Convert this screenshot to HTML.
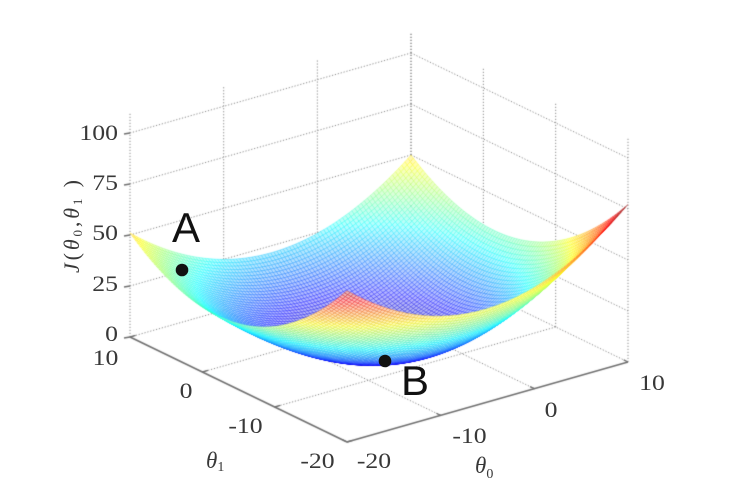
<!DOCTYPE html>
<html><head><meta charset="utf-8">
<style>
html,body{margin:0;padding:0;background:#fff;}
#w{position:relative;width:739px;height:495px;overflow:hidden;background:#fff;}
canvas,svg{position:absolute;left:0;top:0;}
.t{font-family:"Liberation Serif",serif;font-size:22px;fill:#383838;}
.s{font-family:"Liberation Sans",sans-serif;font-size:42px;fill:#111;}
</style></head><body>
<div id="w">
<canvas id="c" width="739" height="495"></canvas>
<svg width="739" height="495" viewBox="0 0 739 495">
  <text class="t" text-anchor="end" transform="translate(118,140) scale(1.17,1)">100</text>
  <text class="t" text-anchor="end" transform="translate(118,190) scale(1.17,1)">75</text>
  <text class="t" text-anchor="end" transform="translate(118,240) scale(1.17,1)">50</text>
  <text class="t" text-anchor="end" transform="translate(118,291) scale(1.17,1)">25</text>
  <text class="t" text-anchor="end" transform="translate(118,341) scale(1.17,1)">0</text>
  <text class="t" text-anchor="middle" transform="translate(105.5,365) scale(1.17,1)">10</text>
  <text class="t" text-anchor="middle" transform="translate(186,398) scale(1.17,1)">0</text>
  <text class="t" text-anchor="middle" transform="translate(245.5,433) scale(1.17,1)">-10</text>
  <text class="t" text-anchor="middle" transform="translate(317.5,468) scale(1.17,1)">-20</text>
  <text class="t" text-anchor="middle" transform="translate(374,468) scale(1.17,1)">-20</text>
  <text class="t" text-anchor="middle" transform="translate(469.5,443) scale(1.17,1)">-10</text>
  <text class="t" text-anchor="middle" transform="translate(551,417) scale(1.17,1)">0</text>
  <text class="t" text-anchor="middle" transform="translate(652,390) scale(1.17,1)">10</text>
  <text class="t" transform="translate(206,468)"><tspan font-style="italic" font-size="23">θ</tspan><tspan font-size="14" dy="3">1</tspan></text>
  <text class="t" transform="translate(475,473)"><tspan font-style="italic" font-size="23">θ</tspan><tspan font-size="14" dy="5">0</tspan></text>
  <text class="t" transform="translate(79,273) rotate(-90)" textLength="93" lengthAdjust="spacing"><tspan font-style="italic">J</tspan><tspan>(</tspan><tspan font-style="italic">θ</tspan><tspan font-size="13" dy="3">0</tspan><tspan dy="-3">,</tspan><tspan font-style="italic">θ</tspan><tspan font-size="13" dy="3">1</tspan><tspan dy="-3"> )</tspan></text>
  <text class="s" x="172" y="242">A</text>
  <text class="s" x="401" y="395">B</text>
  <circle cx="182" cy="270" r="6.3" fill="#111"/>
  <circle cx="385" cy="361" r="6.3" fill="#111"/>
</svg>
</div>
<script>
(function(){
var c=document.getElementById('c'),x=c.getContext('2d');
function P(a,b,z){var u=a+20,v=b+20;return [347+9.367*u-7.233*v,442-2.667*u-3.5*v-2.04*z];}
function L(p,q){x.beginPath();x.moveTo(p[0],p[1]);x.lineTo(q[0],q[1]);x.stroke();}
x.fillStyle='#fff';x.fillRect(0,0,739,495);
x.setLineDash([1.2,1.8]);x.strokeStyle='#8c8c8c';x.lineWidth=1;
var k;
var T0=[-20,-10,0,10],T1=[10,0,-10,-20],ZZ=[0,25,50,75,100];
for(k=0;k<4;k++)L(P(T0[k],10,0),P(T0[k],10,110));
for(k=0;k<4;k++)L(P(10,T1[k],0),P(10,T1[k],110));
for(k=0;k<5;k++){L(P(-20,10,ZZ[k]),P(10,10,ZZ[k]));L(P(10,10,ZZ[k]),P(10,-20,ZZ[k]));}
L(P(-10,-20,0),P(-10,10,0));L(P(0,-20,0),P(0,10,0));
L(P(-20,-10,0),P(10,-10,0));L(P(-20,0,0),P(10,0,0));
var K=8,K2=3;
function J(a,b){var s=(a+20)/30,t=(b+20)/30,ph=16*s*(1-s)*t*(1-t),w=(10-a)*(10-b)/900;
 return 0.1284*a*a+0.13*b*b-0.009*a*b+1.34*a+0.482*b+6.83-K*ph-K2*ph*(a-b)/10+4*w*w;}
var N=90,st=30/N,G=[],S=[],zmin=1e9,zmax=-1e9,i,j;
for(i=0;i<=N;i++){G[i]=[];S[i]=[];for(j=0;j<=N;j++){var a=-20+i*st,b=-20+j*st,z=J(a,b);G[i][j]=z;S[i][j]=P(a,b,z);if(z<zmin)zmin=z;if(z>zmax)zmax=z;}}
var Q=[];
for(i=0;i<N;i++)for(j=0;j<N;j++){var zc=(G[i][j]+G[i+1][j]+G[i][j+1]+G[i+1][j+1])/4;var u=(i+0.5)*st,v=(j+0.5)*st;Q.push([-3.8*u-4.92*v+zc,i,j,zc]);}
Q.sort(function(p,q){return p[0]-q[0];});
function cl(v){return v<0?0:v>1?1:v;}
x.setLineDash([]);x.lineWidth=0.55;x.lineJoin='round';
for(k=0;k<Q.length;k++){var q=Q[k];i=q[1];j=q[2];var t=(q[3]-zmin)/(zmax-zmin);
 var r=cl(1.5-Math.abs(4*t-3)),g=cl(1.5-Math.abs(4*t-2)),bb=cl(1.5-Math.abs(4*t-1));
 var R=Math.round(255*r),Gc=Math.round(255*g),B=Math.round(255*bb);
 var f=0.3;
 x.fillStyle='rgb('+Math.round(255-(255-R)*f)+','+Math.round(255-(255-Gc)*f)+','+Math.round(255-(255-B)*f)+')';
 x.strokeStyle='rgba('+R+','+Gc+','+B+',0.6)';
 var p1=S[i][j],p2=S[i+1][j],p3=S[i+1][j+1],p4=S[i][j+1];
 x.beginPath();x.moveTo(p1[0],p1[1]);x.lineTo(p2[0],p2[1]);x.lineTo(p3[0],p3[1]);x.lineTo(p4[0],p4[1]);x.closePath();x.fill();x.stroke();}
x.strokeStyle='#707070';x.lineWidth=1.6;
L(P(-20,10,0),P(-20,-20,0));L(P(-20,-20,0),P(10,-20,0));
x.lineWidth=1.3;
for(k=0;k<4;k++){L(P(-20,T1[k],0),P(-19.4,T1[k],0));L(P(T0[k],-20,0),P(T0[k],-19.4,0));}
for(k=0;k<5;k++){var p=P(-20,10,ZZ[k]);L([p[0]-6,p[1]+1],p);}
})();
</script>
</body></html>
